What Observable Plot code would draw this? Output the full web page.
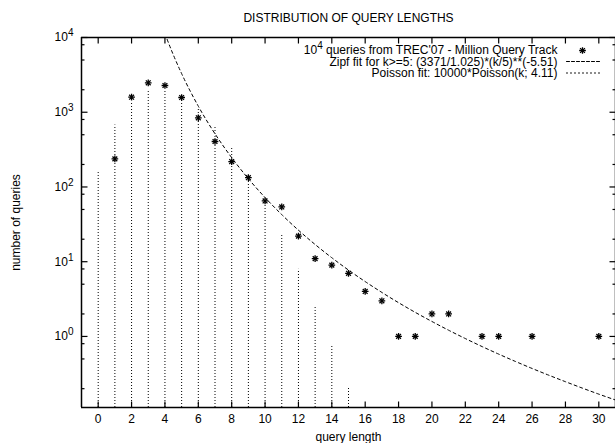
<!DOCTYPE html>
<html>
<head>
<meta charset="utf-8">
<script src="https://cdn.jsdelivr.net/npm/d3@7"></script>
<script src="https://cdn.jsdelivr.net/npm/@observablehq/plot@0.6"></script>
<style>
  html, body { margin: 0; padding: 0; background: white; }
</style>
</head>
<body>
<div id="chart"></div>
<script>
// Observed query-length counts (stars)
const lengths = [1, 2, 3, 4, 5, 6, 7, 8, 9, 10, 11, 12, 13, 14, 15, 16, 17, 18, 19, 20, 21, 23, 24, 26, 30];
const counts  = [238, 1589, 2477, 2278, 1575, 843, 406, 219, 133, 65, 54, 22, 11, 9, 7, 4, 3, 1, 1, 2, 2, 1, 1, 1, 1];

// Poisson fit impulses (dotted)
const poissonK = [0, 1, 2, 3, 4, 5, 6, 7, 8, 9, 10, 11, 12, 13, 14, 15];
const poissonV = [164, 674, 1385, 1897, 1949, 1602, 1098, 644, 331, 151, 62, 23, 7.9, 2.5, 0.74, 0.21];

// Zipf fit curve (dashed)
const zipfK = [4, 4.5, 5, 6, 7, 8, 9, 10, 11, 12, 13, 14, 15, 16, 17, 18, 19, 20, 21, 22, 23, 24, 25, 26, 27, 28, 29, 30, 31];
const zipfV = [11245, 5877, 3289, 1204, 515, 247, 129, 72.2, 42.7, 26.4, 17.0, 11.3, 7.73, 5.42, 3.88, 2.83, 2.10, 1.585, 1.211, 0.937, 0.733, 0.580, 0.463, 0.373, 0.303, 0.248, 0.204, 0.169, 0.141];

// Axis extents and tick values/labels
const xDomain = [-1, 31];
const yDomain = [0.112, 10000];
const xTicks = [0, 2, 4, 6, 8, 10, 12, 14, 16, 18, 20, 22, 24, 26, 28, 30];
const yMajor = [1, 10, 100, 1000, 10000];
const yTickLabels = ["10\u2070", "10\u00B9", "10\u00B2", "10\u00B3", "10\u2074"];
const yMinor = [0.2, 0.5, 0.8, 2, 5, 8, 20, 50, 80, 200, 500, 800, 2000, 5000, 8000];

// Texts
const titleText = "DISTRIBUTION OF QUERY LENGTHS";
const xLabel = "query length";
const yLabel = "number of queries";
const legendTexts = [
  "10\u2074 queries from TREC'07 - Million Query Track",
  "Zipf fit for k>=5: (3371/1.025)*(k/5)**(-5.51)",
  "Poisson fit: 10000*Poisson(k; 4.11)"
];

const obs = lengths.map((k, i) => ({k, v: counts[i]}));
const poisson = poissonK.map((k, i) => ({k, v: poissonV[i]}));
const zipf = zipfK.map((k, i) => ({k, v: zipfV[i]}));

const [xLo, xHi] = xDomain;
const [yLo, yHi] = yDomain;
const lineShape = {draw(context, l) { context.moveTo(0, 0); context.lineTo(0, -l); }};
const font = "'Liberation Sans', Arial, Helvetica, sans-serif";

// inward tick glyphs (fixed pixel length), placed at the plot edges
const tickSym = (dx, dy) => ({draw(ctx) { ctx.moveTo(0, 0); ctx.lineTo(dx, dy); }});
const tickDots = (data, x, y, sym) =>
  Plot.dot(data, {x, y, symbol: sym, stroke: "black", strokeWidth: 1.2, fill: "none", r: 3});

const chart = Plot.plot({
  width: 615,
  height: 443,
  marginLeft: 81,
  marginRight: 0,
  marginTop: 37,
  marginBottom: 36,
  style: {fontFamily: font, fontSize: "12px", background: "white", color: "black"},
  x: {domain: xDomain, axis: null, label: null},
  y: {type: "log", domain: yDomain, axis: null, label: null},
  marks: [
    // Poisson impulses
    Plot.ruleX(poisson, {x: "k", y1: yLo, y2: "v", stroke: "black", strokeWidth: 1, strokeDasharray: "1,2"}),
    // Zipf curve
    Plot.line(zipf, {x: "k", y: "v", stroke: "black", strokeWidth: 1, strokeDasharray: "3,3", curve: "monotone-x", clip: true}),
    // Observed points (asterisk = plus + times)
    Plot.dot(obs, {x: "k", y: "v", symbol: "plus", r: 2.3, stroke: "black", strokeWidth: 1.3}),
    Plot.dot(obs, {x: "k", y: "v", symbol: "times", r: 2.3, stroke: "black", strokeWidth: 1.3}),
    // Inward ticks on all four sides
    tickDots(xTicks, d => d, () => yLo, tickSym(0, -6)),
    tickDots(xTicks, d => d, () => yHi, tickSym(0, 6)),
    tickDots(yMajor, () => xLo, d => d, tickSym(6, 0)),
    tickDots(yMinor, () => xLo, d => d, tickSym(3, 0)),
    tickDots(yMajor, () => xHi, d => d, tickSym(-6, 0)),
    tickDots(yMinor, () => xHi, d => d, tickSym(-3, 0)),
    // Border
    Plot.ruleY([yLo, yHi], {stroke: "black", strokeWidth: 1.5}),
    Plot.ruleX([xLo, xHi], {stroke: "black", strokeWidth: 1.5}),
    // Tick labels
    Plot.axisX(xTicks, {anchor: "bottom", tickSize: 0, tickPadding: 7, label: null, fontSize: 12}),
    Plot.axisY(yMajor, {anchor: "left", tickSize: 0, tickPadding: 8, label: null, fontSize: 12,
      tickFormat: d => yTickLabels[yMajor.indexOf(d)]}),
    // Title and axis labels
    Plot.text([titleText], {text: d => d, frameAnchor: "top", dy: -19, lineAnchor: "middle", fontSize: 12}),
    Plot.text([xLabel], {text: d => d, frameAnchor: "bottom", dy: 30, lineAnchor: "middle", fontSize: 12}),
    Plot.text([yLabel], {text: d => d, frameAnchor: "left", dx: -65, rotate: -90, lineAnchor: "middle", textAnchor: "middle", fontSize: 12}),
    // Legend
    Plot.text([legendTexts[0]], {text: d => d, frameAnchor: "top-right", dx: -58, dy: 13, textAnchor: "end", lineAnchor: "middle", fontSize: 12}),
    Plot.text([legendTexts[1]], {text: d => d, frameAnchor: "top-right", dx: -58, dy: 24.5, textAnchor: "end", lineAnchor: "middle", fontSize: 12}),
    Plot.text([legendTexts[2]], {text: d => d, frameAnchor: "top-right", dx: -58, dy: 35.5, textAnchor: "end", lineAnchor: "middle", fontSize: 12}),
    Plot.dot([0], {frameAnchor: "top-right", dx: -33, dy: 13, symbol: "plus", r: 2.3, stroke: "black", strokeWidth: 1.3}),
    Plot.dot([0], {frameAnchor: "top-right", dx: -33, dy: 13, symbol: "times", r: 2.3, stroke: "black", strokeWidth: 1.3}),
    Plot.vector([0], {frameAnchor: "top-right", dx: -49, dy: 24, rotate: 90, length: 35, anchor: "start", shape: lineShape, stroke: "black", strokeWidth: 1, strokeDasharray: "3,2"}),
    Plot.vector([0], {frameAnchor: "top-right", dx: -49, dy: 35.5, rotate: 90, length: 35, anchor: "start", shape: lineShape, stroke: "black", strokeWidth: 1, strokeDasharray: "1,3"})
  ]
});

// Render "10ⁿ" as 10 with a raised, smaller exponent (gnuplot style), keeping real text
const supMap = {"\u2070": "0", "\u00B9": "1", "\u00B2": "2", "\u00B3": "3", "\u2074": "4"};
d3.select(chart).selectAll("text").each(function() {
  const t = this.textContent;
  const m = /^10([\u2070\u00B9\u00B2\u00B3\u2074])(.*)$/.exec(t);
  if (!m) return;
  const node = d3.select(this);
  const target = node.select("tspan").empty() ? node : node.select("tspan");
  target.text(null);
  target.append("tspan").text("10");
  target.append("tspan").attr("font-size", 10).attr("dy", "-5").text(supMap[m[1]]);
  if (m[2]) target.append("tspan").attr("dy", "5").text(m[2]);
});

document.getElementById("chart").appendChild(chart);
</script>
</body>
</html>
